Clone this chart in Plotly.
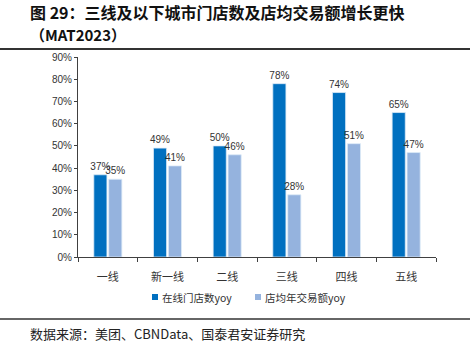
import plotly.graph_objects as go

categories = ["一线", "新一线", "二线", "三线", "四线", "五线"]
stores_yoy = [37, 49, 50, 78, 74, 65]
avg_trade_yoy = [35, 41, 46, 28, 51, 47]
yticks = [0, 10, 20, 30, 40, 50, 60, 70, 80, 90]
series_names = ["在线门店数yoy", "店均年交易额yoy"]
series_colors = ["#0070C0", "#95B3DE"]

W, H = 470, 353
L, R, T, B = 78, 34, 57, 96
ph = H - T - B

def py(p):
    return (H - B - p) / ph

def px(p):
    return (p - L) / (W - L - R)

fig = go.Figure()
for vals, name, color in zip([stores_yoy, avg_trade_yoy], series_names, series_colors):
    fig.add_trace(go.Bar(
        x=categories, y=vals, name=name,
        marker=dict(color=color, line=dict(color="#DDEBF7", width=0.8)),
        text=[f"{v}%" for v in vals], textposition="outside",
        textfont=dict(size=10, color="#333333", family="Arial"),
        constraintext="none", cliponaxis=False,
    ))

fig.update_layout(
    width=W, height=H,
    margin=dict(l=L, r=R, t=T, b=B),
    paper_bgcolor="white", plot_bgcolor="white",
    barmode="group", bargap=0.5, bargroupgap=0.12,
    font=dict(family="Arial, Noto Sans CJK SC", size=10, color="#333333"),
    showlegend=False,
    xaxis=dict(showline=True, linecolor="#404040", linewidth=1,
               ticks="outside", tickson="boundaries", ticklen=4, tickcolor="#404040",
               ticklabelstandoff=10,
               tickfont=dict(size=11, family="Noto Sans CJK SC", color="#333333"),
               showgrid=False),
    yaxis=dict(range=[0, 90], tickvals=yticks, ticktext=[f"{v}%" for v in yticks],
               showline=True, linecolor="#404040", linewidth=1,
               ticks="outside", ticklen=3, tickcolor="#404040",
               showgrid=False, zeroline=False,
               tickfont=dict(size=10, family="Arial", color="#333333")),
)

# manual legend
leg_x = [152, 255]
for lx, name, color in zip(leg_x, series_names, series_colors):
    fig.add_shape(type="rect", xref="paper", yref="paper",
                  x0=px(lx), x1=px(lx + 6), y0=py(300), y1=py(294),
                  fillcolor=color, line=dict(width=0))
    fig.add_annotation(xref="paper", yref="paper", x=px(lx + 8), y=py(297),
                       xanchor="left", yanchor="middle", text=name, showarrow=False,
                       font=dict(size=10.5, family="Noto Sans CJK SC", color="#333333"))

fig.add_annotation(xref="paper", yref="paper", x=px(28), y=py(12), xanchor="left", yanchor="middle",
                   text="<b>图 29：三线及以下城市门店数及店均交易额增长更快</b>", showarrow=False,
                   font=dict(size=16, family="Noto Sans CJK SC", color="#111111"))
fig.add_annotation(xref="paper", yref="paper", x=px(28), y=py(35), xanchor="left", yanchor="middle",
                   text="<b>（MAT2023）</b>", showarrow=False,
                   font=dict(size=15, family="Noto Sans CJK SC", color="#111111"))
fig.add_annotation(xref="paper", yref="paper", x=px(28), y=py(333), xanchor="left", yanchor="middle",
                   text="数据来源：美团、CBNData、国泰君安证券研究", showarrow=False,
                   font=dict(size=13, family="Noto Sans CJK SC", color="#222222"))

fig.add_shape(type="line", xref="paper", yref="paper", x0=px(0), x1=px(470), y0=py(49), y1=py(49),
              line=dict(color="#333333", width=2))
fig.add_shape(type="line", xref="paper", yref="paper", x0=px(0), x1=px(470), y0=py(319), y1=py(319),
              line=dict(color="#333333", width=1.5))

fig.write_html("out.html")
